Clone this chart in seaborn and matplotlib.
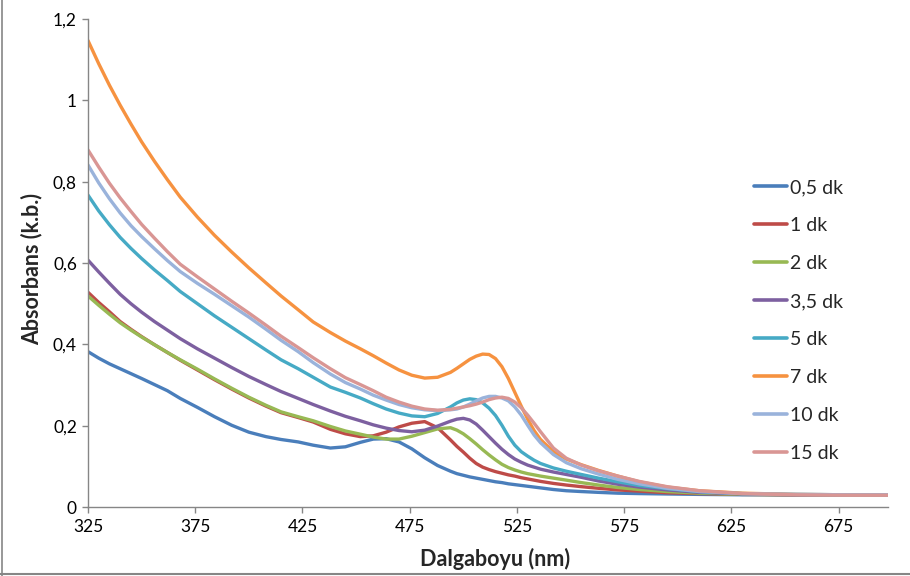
import matplotlib
matplotlib.use("Agg")
import matplotlib.pyplot as plt
from matplotlib.lines import Line2D
from matplotlib.ticker import FixedLocator, FixedFormatter
import seaborn as sns
import pandas as pd

# ---------------- data ----------------
wavelength = [325, 330, 335, 340, 345, 350, 356, 362, 368, 376, 384, 392, 400, 408,
              415, 423, 430, 438, 445, 452, 458, 464, 470, 476, 482, 488,
              494, 497, 500, 503, 506, 509, 512, 515, 518, 521, 524, 527, 530, 533, 536,
              542, 548, 555, 563, 572, 582, 595, 610, 630, 655, 680, 698]

dk_0_5 = [0.382, 0.366, 0.352, 0.340, 0.328, 0.316, 0.301, 0.286, 0.267, 0.245, 0.222,
          0.201, 0.184, 0.173, 0.166, 0.160, 0.152, 0.145, 0.148, 0.159, 0.167, 0.168,
          0.160, 0.143, 0.121, 0.102,
          0.088, 0.082, 0.078, 0.074, 0.071, 0.068, 0.065, 0.062, 0.060, 0.057, 0.055,
          0.053, 0.051, 0.049, 0.047,
          0.043, 0.040, 0.038, 0.036, 0.034, 0.033, 0.032, 0.031, 0.030, 0.030, 0.030, 0.030]
dk_1 = [0.528, 0.503, 0.480, 0.456, 0.437, 0.419, 0.399, 0.380, 0.361, 0.337, 0.313,
        0.290, 0.268, 0.248, 0.232, 0.220, 0.209, 0.191, 0.180, 0.173, 0.175, 0.184,
        0.197, 0.206, 0.210, 0.195,
        0.165, 0.149, 0.135, 0.120, 0.107, 0.098, 0.092, 0.087, 0.083, 0.079, 0.076,
        0.072, 0.069, 0.066, 0.063,
        0.058, 0.054, 0.050, 0.046, 0.042, 0.039, 0.035, 0.033, 0.031, 0.030, 0.030, 0.030]
dk_2 = [0.519, 0.496, 0.474, 0.453, 0.435, 0.418, 0.399, 0.380, 0.362, 0.339, 0.315,
        0.292, 0.270, 0.250, 0.234, 0.222, 0.212, 0.198, 0.187, 0.179, 0.172, 0.167,
        0.167, 0.174, 0.183, 0.192,
        0.195, 0.189, 0.180, 0.168, 0.155, 0.141, 0.128, 0.116, 0.105, 0.097, 0.091,
        0.086, 0.082, 0.079, 0.076,
        0.071, 0.066, 0.060, 0.054, 0.048, 0.043, 0.038, 0.034, 0.031, 0.030, 0.030, 0.030]
dk_3_5 = [0.607, 0.578, 0.550, 0.523, 0.500, 0.479, 0.456, 0.435, 0.414, 0.389, 0.366,
          0.343, 0.321, 0.301, 0.284, 0.267, 0.252, 0.236, 0.223, 0.212, 0.202, 0.194,
          0.188, 0.185, 0.189, 0.199,
          0.211, 0.216, 0.218, 0.214, 0.204, 0.189, 0.173, 0.157, 0.142, 0.129, 0.118,
          0.110, 0.103, 0.098, 0.093,
          0.086, 0.080, 0.073, 0.064, 0.056, 0.049, 0.042, 0.036, 0.032, 0.030, 0.030, 0.030]
dk_5 = [0.767, 0.728, 0.694, 0.663, 0.636, 0.611, 0.583, 0.557, 0.530, 0.500, 0.470,
        0.442, 0.414, 0.386, 0.362, 0.340, 0.319, 0.295, 0.282, 0.268, 0.254, 0.241,
        0.231, 0.224, 0.222, 0.230,
        0.246, 0.256, 0.263, 0.266, 0.264, 0.256, 0.243, 0.225, 0.201, 0.174, 0.152,
        0.136, 0.125, 0.115, 0.107,
        0.096, 0.088, 0.080, 0.071, 0.062, 0.053, 0.045, 0.038, 0.033, 0.031, 0.030, 0.030]
dk_7 = [1.147, 1.090, 1.037, 0.988, 0.942, 0.898, 0.850, 0.805, 0.762, 0.713, 0.668,
        0.627, 0.588, 0.551, 0.519, 0.485, 0.455, 0.429, 0.408, 0.389, 0.372, 0.354,
        0.337, 0.324, 0.317, 0.319,
        0.331, 0.341, 0.352, 0.363, 0.371, 0.376, 0.375, 0.365, 0.345, 0.316, 0.282,
        0.248, 0.216, 0.188, 0.166,
        0.136, 0.118, 0.104, 0.090, 0.076, 0.062, 0.049, 0.040, 0.034, 0.031, 0.030, 0.030]
dk_10 = [0.841, 0.797, 0.758, 0.723, 0.692, 0.665, 0.635, 0.606, 0.579, 0.550, 0.523,
         0.495, 0.467, 0.437, 0.410, 0.382, 0.355, 0.327, 0.306, 0.290, 0.275, 0.263,
         0.252, 0.244, 0.239, 0.237,
         0.239, 0.241, 0.246, 0.253, 0.261, 0.268, 0.272, 0.272, 0.268, 0.261, 0.246,
         0.226, 0.201, 0.177, 0.158,
         0.129, 0.109, 0.094, 0.081, 0.068, 0.057, 0.046, 0.038, 0.033, 0.031, 0.030, 0.030]
dk_15 = [0.878, 0.836, 0.796, 0.760, 0.727, 0.695, 0.661, 0.628, 0.597, 0.566, 0.536,
         0.506, 0.477, 0.447, 0.420, 0.392, 0.367, 0.340, 0.318, 0.301, 0.286, 0.270,
         0.258, 0.248, 0.241, 0.238,
         0.240, 0.243, 0.246, 0.249, 0.253, 0.258, 0.264, 0.268, 0.270, 0.267, 0.258,
         0.244, 0.226, 0.206, 0.185,
         0.145, 0.120, 0.103, 0.089, 0.076, 0.063, 0.050, 0.040, 0.033, 0.030, 0.029, 0.029]

series_names = ["0,5 dk", "1 dk", "2 dk", "3,5 dk", "5 dk", "7 dk", "10 dk", "15 dk"]
series_values = [dk_0_5, dk_1, dk_2, dk_3_5, dk_5, dk_7, dk_10, dk_15]
series_colors = ["#4A7EBB", "#BE4B48", "#98B954", "#7D60A0",
                 "#46AAC5", "#F69240", "#9AB3DB", "#D99694"]

x_ticks = [325, 375, 425, 475, 525, 575, 625, 675]
y_ticks = [0, 0.2, 0.4, 0.6, 0.8, 1.0, 1.2]
y_tick_labels = ["0", "0,2", "0,4", "0,6", "0,8", "1", "1,2"]

for vals in series_values:
    assert len(vals) == len(wavelength)

# ---------------- build table ----------------
rows = []
for name, vals in zip(series_names, series_values):
    for w, v in zip(wavelength, vals):
        rows.append({"Dalgaboyu": w, "Absorbans": v, "Süre": name})
df = pd.DataFrame(rows)

# ---------------- plot ----------------
sns.set_style("white")
plt.rcParams["font.family"] = ["Lato", "DejaVu Sans"]

fig = plt.figure(figsize=(9.1, 5.76), dpi=100)
ax = fig.add_axes([88 / 910, 69 / 576, 800 / 910, 488 / 576])

sns.lineplot(data=df, x="Dalgaboyu", y="Absorbans", hue="Süre",
             hue_order=series_names, palette=series_colors,
             linewidth=2.4, ax=ax, legend=False,
             solid_joinstyle="round", solid_capstyle="round")

ax.set_xlim(325, 698)
ax.set_ylim(0, 1.2)

ax.xaxis.set_major_locator(FixedLocator(x_ticks))
ax.set_xticklabels([str(t) for t in x_ticks])
ax.yaxis.set_major_locator(FixedLocator(y_ticks))
ax.yaxis.set_major_formatter(FixedFormatter(y_tick_labels))

axis_gray = "#868686"
for side in ["top", "right"]:
    ax.spines[side].set_visible(False)
for side in ["left", "bottom"]:
    ax.spines[side].set_color(axis_gray)
    ax.spines[side].set_linewidth(1.0)

ax.tick_params(axis="both", which="major", direction="out", length=4,
               width=1.0, color=axis_gray, labelsize=12.5, labelcolor="#000000",
               left=True, bottom=True)
ax.tick_params(axis="y", pad=4)
ax.tick_params(axis="x", pad=5)

ax.set_xlabel("Dalgaboyu (nm)", fontsize=15.5, fontweight="bold")
ax.set_ylabel("Absorbans (k.b.)", fontsize=15.5, fontweight="bold")
ax.xaxis.set_label_coords(0.509, -0.084)
ax.yaxis.set_label_coords(-0.0575, 0.487)

handles = [Line2D([0], [0], color=c, lw=2.6) for c in series_colors]
ax.legend(handles, series_names, loc="upper left",
          bbox_to_anchor=(754 / 910, 1 - 179 / 576), bbox_transform=fig.transFigure,
          frameon=False, fontsize=14, handlelength=1.7, handletextpad=0.15,
          labelspacing=1.08, borderpad=0, borderaxespad=0)

# chart-area border (left and bottom edges visible in the reference)
fig.add_artist(Line2D([2 / 910, 2 / 910], [0.0, 1.0], transform=fig.transFigure,
                      color=axis_gray, lw=1.2))
fig.add_artist(Line2D([0.0, 1.0], [1 - 574 / 576, 1 - 574 / 576],
                      transform=fig.transFigure, color=axis_gray, lw=1.5))

fig.savefig("out.png", dpi=100)
